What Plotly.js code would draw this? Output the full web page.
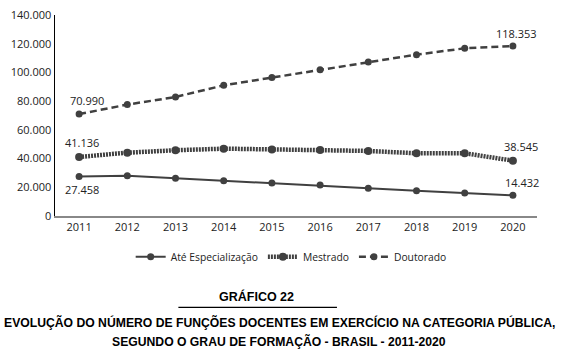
<!DOCTYPE html>
<html><head><meta charset="utf-8">
<script src="https://cdn.plot.ly/plotly-3.0.1.min.js"></script>
<style>html,body{margin:0;padding:0;background:#fff}#c{width:563px;height:355px}</style>
</head><body><div id="c"></div>
<script>
const years = ['2011','2012','2013','2014','2015','2016','2017','2018','2019','2020'];
const ateEspecializacao = [27458, 28100, 26300, 24600, 23000, 21600, 19400, 17500, 16000, 14432];
const mestrado = [41136, 44100, 45800, 46900, 46400, 46000, 45300, 43700, 43700, 38545];
const doutorado = [70990, 77600, 82900, 91000, 96400, 101900, 107200, 112400, 116800, 118353];
const yTicks = [0, 20000, 40000, 60000, 80000, 100000, 120000, 140000];
const yTickText = ['0','20.000','40.000','60.000','80.000','100.000','120.000','140.000'];

const col = '#404040';
const fmt = v => String(v).replace(/\B(?=(\d{3})+(?!\d))/g, '.');
const traces = [
  {x: years, y: ateEspecializacao, name: 'Até Especialização', mode: 'lines+markers',
   line: {color: col, width: 2}, marker: {color: col, size: 7}},
  {x: years, y: mestrado, name: 'Mestrado', mode: 'lines+markers',
   line: {color: col, width: 4.5, dash: '2px,1px'}, marker: {color: col, size: 8}},
  {x: years, y: doutorado, name: 'Doutorado', mode: 'lines+markers',
   line: {color: col, width: 2.5, dash: '7px,4px'}, marker: {color: col, size: 7}}
];
const last = years.length - 1;
const lab = (i, y, xs, ys) => ({x: i, y: y, xref: 'x', yref: 'y', text: fmt(y), showarrow: false,
  xshift: xs, yshift: ys, font: {family: 'Open Sans, sans-serif', size: 11, color: '#222'}});
const annotations = [
  lab(0, doutorado[0], 8, 14),
  lab(0, mestrado[0], 3, 14),
  lab(0, ateEspecializacao[0], 3, -13),
  lab(last, doutorado[last], 4, 13),
  lab(last, mestrado[last], 8, 14),
  lab(last, ateEspecializacao[last], 9, 13),
  {xref: 'paper', yref: 'paper', x: 0.419, y: -0.40, text: '<b>GRÁFICO 22</b>', showarrow: false,
   xanchor: 'center', yanchor: 'middle', font: {family: 'Liberation Sans, Arial, sans-serif', size: 12.5, color: '#000'}},
  {xref: 'paper', yref: 'paper', x: 0.465, y: -0.53, text: '<b>EVOLUÇÃO DO NÚMERO DE FUNÇÕES DOCENTES EM EXERCÍCIO NA CATEGORIA PÚBLICA,</b>', showarrow: false,
   xanchor: 'center', yanchor: 'middle', font: {family: 'Liberation Sans, Arial, sans-serif', size: 12.2, color: '#000'}},
  {xref: 'paper', yref: 'paper', x: 0.465, y: -0.625, text: '<b>SEGUNDO O GRAU DE FORMAÇÃO - BRASIL - 2011-2020</b>', showarrow: false,
   xanchor: 'center', yanchor: 'middle', font: {family: 'Liberation Sans, Arial, sans-serif', size: 12.2, color: '#000'}}
];
const layout = {
  width: 563, height: 355,
  margin: {l: 55, r: 26, t: 15, b: 139},
  paper_bgcolor: '#fff', plot_bgcolor: '#fff',
  font: {family: 'Open Sans, sans-serif', size: 11, color: '#222'},
  showlegend: true,
  legend: {orientation: 'h', x: 0.49, xanchor: 'center', y: -0.13, yanchor: 'top',
    font: {family: 'Open Sans, sans-serif', size: 10.3, color: '#222'}, itemwidth: 30},
  xaxis: {type: 'category', range: [-0.5, 9.5], showline: true, linecolor: '#888', linewidth: 1.5,
    showgrid: false, zeroline: false, ticks: '', ticklen: 0, tickfont: {size: 11, color: '#222'}},
  yaxis: {range: [0, 140000], tickvals: yTicks, ticktext: yTickText, showline: true, linecolor: '#000',
    linewidth: 1.5, showgrid: false, zeroline: false, ticks: '', tickfont: {size: 11, color: '#222'}},
  shapes: [{type: 'line', xref: 'paper', yref: 'paper', x0: 0.256, x1: 0.585, y0: -0.455, y1: -0.455,
    line: {color: '#000', width: 1.2}}],
  annotations: annotations
};
Plotly.newPlot('c', traces, layout, {displayModeBar: false, staticPlot: true});
</script></body></html>
